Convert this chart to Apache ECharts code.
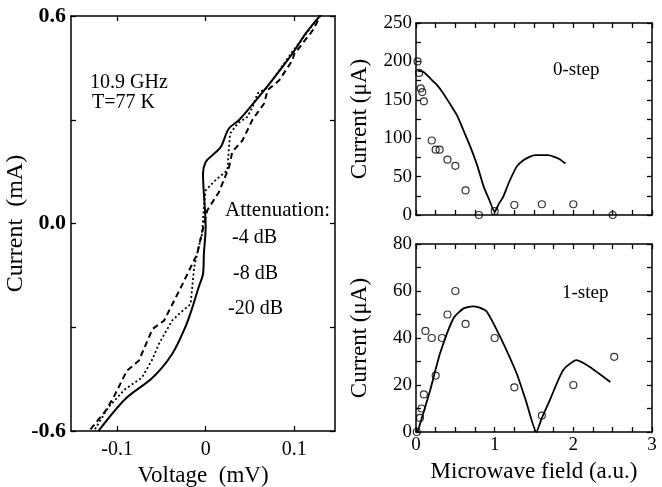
<!DOCTYPE html>
<html>
<head>
<meta charset="utf-8">
<script src="https://cdn.jsdelivr.net/npm/echarts@6/dist/echarts.min.js"></script>
<style>html,body{margin:0;padding:0;background:#fff;}#c{width:662px;height:487px;}</style>
</head>
<body>
<div id="c"></div>
<script>
// ---- Left panel: I-V curves ----
const ivXTicks = [-0.1, 0, 0.1];
const iv20dB_V = [-0.121,-0.091,-0.060,-0.038,-0.023,-0.015,-0.008,-0.003,-0.002,0.000,-0.003,0.000,0.0075,0.017,0.026,0.038,0.057,0.075,0.098,0.113,0.130];
const iv20dB_I = [-0.60,-0.508,-0.446,-0.378,-0.30,-0.243,-0.185,-0.146,-0.088,-0.01,0.144,0.178,0.197,0.221,0.274,0.30,0.357,0.414,0.492,0.55,0.603];
const iv8dB_V = [-0.125,-0.110,-0.091,-0.072,-0.060,-0.053,-0.038,-0.028,-0.017,-0.013,-0.008,-0.004,-0.002,0.000,0.011,0.0245,0.0275,0.036,0.047,0.053,0.0585,0.068,0.074,0.098,0.128];
const iv8dB_I = [-0.595,-0.532,-0.479,-0.446,-0.392,-0.349,-0.281,-0.257,-0.233,-0.127,-0.069,-0.03,0.047,0.096,0.125,0.154,0.26,0.289,0.308,0.337,0.376,0.39,0.41,0.497,0.598];
const iv4dB_V = [-0.130,-0.113,-0.104,-0.089,-0.0755,-0.060,-0.047,-0.028,-0.017,-0.0095,-0.0057,0.0018,0.015,0.0264,0.030,0.0415,0.0528,0.066,0.070,0.083,0.098,0.100,0.121,0.130];
const iv4dB_I = [-0.595,-0.542,-0.503,-0.426,-0.397,-0.305,-0.281,-0.185,-0.127,-0.088,-0.044,0.038,0.091,0.163,0.207,0.24,0.30,0.347,0.386,0.414,0.472,0.49,0.559,0.603];

// ---- Top right: 0-step ----
const step0_measX = [0.02,0.04,0.06,0.08,0.10,0.20,0.25,0.30,0.40,0.50,0.63,0.80,1.00,1.25,1.60,2.00,2.50];
const step0_measY = [200,185,165,160,148,97,85,85,72,64,32,0,5,13,14,14,0];
const step0_theoX = [0.02,0.10,0.18,0.26,0.35,0.43,0.52,0.60,0.69,0.78,0.86,0.93,1.00,1.05,1.11,1.18,1.28,1.36,1.45,1.52,1.60,1.68,1.75,1.82,1.90];
const step0_theoY = [188,186,178,170,158,145,130,111,89,64,37,20,4,14,24,42,63,71,76,78,78,78,76,73,67];

// ---- Bottom right: 1-step ----
const step1_measX = [0.01,0.05,0.07,0.10,0.12,0.20,0.25,0.33,0.40,0.50,0.63,1.00,1.25,1.60,2.00,2.52];
const step1_measY = [0,6,10,16,43,40,24,40,50,60,46,40,19,7,20,32];
const step1_theoX = [0.02,0.18,0.305,0.475,0.60,0.72,0.80,0.90,1.07,1.28,1.40,1.53,1.60,1.70,1.87,2.04,2.21,2.47];
const step1_theoY = [0,17.8,33.4,48.3,52.5,53.5,53,51.2,40.5,24.9,13,0,6,13.5,26.3,30.6,27.7,21.3];

const zip = (a, b) => a.map((v, i) => [v, b[i]]);
const FONT = 'Liberation Serif';
const black = '#000';

function xAx(grid, pos, opts) {
  return Object.assign({
    type: 'value', gridIndex: grid, position: pos,
    axisLine: {show: true, onZero: false, lineStyle: {color: black, width: 1.5}},
    axisTick: {show: true, inside: true, length: 5, lineStyle: {color: black, width: 1.3}},
    axisLabel: {show: false},
    splitLine: {show: false}
  }, opts);
}
function yAx(grid, pos, opts) {
  return Object.assign({
    type: 'value', gridIndex: grid, position: pos,
    axisLine: {show: true, onZero: false, lineStyle: {color: black, width: 1.5}},
    axisTick: {show: true, inside: true, length: 5, lineStyle: {color: black, width: 1.3}},
    axisLabel: {show: false},
    splitLine: {show: false}
  }, opts);
}
const labelStyle = {color: black, fontFamily: FONT, fontSize: 19};
const nameStyle = {color: black, fontFamily: FONT, fontSize: 23};

const option = {
  animation: false,
  backgroundColor: '#fff',
  textStyle: {fontFamily: FONT},
  grid: [
    {left: 71, top: 16, width: 264, height: 415, containLabel: false, outerBoundsMode: 'none'},
    {left: 416, top: 23, width: 236, height: 192, containLabel: false, outerBoundsMode: 'none'},
    {left: 416, top: 244, width: 236, height: 188, containLabel: false, outerBoundsMode: 'none'}
  ],
  xAxis: [
    xAx(0, 'bottom', {min: -0.152, max: 0.146,
      axisTick: {show: true, inside: true, length: 5, customValues: ivXTicks, lineStyle: {color: black, width: 1.3}},
      axisLabel: {show: true, customValues: ivXTicks, margin: 9, formatter: v => (v === 0 ? '0' : String(v)), ...labelStyle, fontSize: 20},
      name: 'Voltage  (mV)', nameLocation: 'middle', nameGap: 21, nameTextStyle: nameStyle}),
    xAx(0, 'top', {min: -0.152, max: 0.146,
      axisTick: {show: true, inside: true, length: 5, customValues: ivXTicks, lineStyle: {color: black, width: 1.3}}}),
    xAx(1, 'bottom', {min: 0, max: 3, interval: 0.25}),
    xAx(1, 'top', {min: 0, max: 3, interval: 0.25}),
    xAx(2, 'bottom', {min: 0, max: 3, interval: 0.25,
      axisLabel: {show: true, margin: 4, formatter: v => (Number.isInteger(v) ? String(v) : ''), ...labelStyle},
      name: 'Microwave field (a.u.)', nameLocation: 'middle', nameGap: 28, nameTextStyle: nameStyle}),
    xAx(2, 'top', {min: 0, max: 3, interval: 0.25})
  ],
  yAxis: [
    yAx(0, 'left', {min: -0.6, max: 0.6, interval: 0.3,
      axisLabel: {show: true, margin: 5, formatter: v => (Math.abs(Math.abs(v) - 0.3) < 1e-6 ? '' : v.toFixed(1)), ...labelStyle, fontSize: 22, fontWeight: 'bold'},
      name: 'Current  (mA)', nameLocation: 'middle', nameGap: 31, nameTextStyle: {...nameStyle, fontSize: 24}}),
    yAx(0, 'right', {min: -0.6, max: 0.6, interval: 0.3}),
    yAx(1, 'left', {min: 0, max: 250, interval: 25,
      axisLabel: {show: true, margin: 4, formatter: v => (v % 50 === 0 ? String(v) : ''), ...labelStyle},
      name: 'Current (μA)', nameLocation: 'middle', nameGap: 45, nameTextStyle: nameStyle}),
    yAx(1, 'right', {min: 0, max: 250, interval: 25}),
    yAx(2, 'left', {min: 0, max: 80, interval: 10,
      axisLabel: {show: true, margin: 4, formatter: v => (v % 20 === 0 ? String(v) : ''), ...labelStyle},
      name: 'Current (μA)', nameLocation: 'middle', nameGap: 45, nameTextStyle: nameStyle}),
    yAx(2, 'right', {min: 0, max: 80, interval: 10})
  ],
  series: [
    {name: '-20 dB', type: 'line', xAxisIndex: 0, yAxisIndex: 0, data: zip(iv20dB_V, iv20dB_I), showSymbol: false, smooth: 0.3,
      lineStyle: {color: black, width: 2, type: 'solid'}},
    {name: '-8 dB', type: 'line', xAxisIndex: 0, yAxisIndex: 0, data: zip(iv8dB_V, iv8dB_I), showSymbol: false,
      lineStyle: {color: black, width: 1.8, type: [2, 2.5]}},
    {name: '-4 dB', type: 'line', xAxisIndex: 0, yAxisIndex: 0, data: zip(iv4dB_V, iv4dB_I), showSymbol: false,
      lineStyle: {color: black, width: 2, type: [6, 4]}},
    {name: '0-step theory', type: 'line', xAxisIndex: 2, yAxisIndex: 2, data: zip(step0_theoX, step0_theoY), showSymbol: false, smooth: 0.2,
      lineStyle: {color: black, width: 1.8}},
    {name: '0-step data', type: 'scatter', xAxisIndex: 2, yAxisIndex: 2, data: zip(step0_measX, step0_measY), symbol: 'circle', symbolSize: 7,
      itemStyle: {color: 'rgba(255,255,255,0)', borderColor: black, borderWidth: 1.2}},
    {name: '1-step theory', type: 'line', xAxisIndex: 4, yAxisIndex: 4, data: zip(step1_theoX, step1_theoY), showSymbol: false, smooth: 0.2,
      lineStyle: {color: black, width: 1.8}},
    {name: '1-step data', type: 'scatter', xAxisIndex: 4, yAxisIndex: 4, data: zip(step1_measX, step1_measY), symbol: 'circle', symbolSize: 7,
      itemStyle: {color: 'rgba(255,255,255,0)', borderColor: black, borderWidth: 1.2}}
  ],
  graphic: [
    {type: 'text', left: 90, top: 73, style: {text: '10.9 GHz', font: '20px "Liberation Serif"', fill: black}},
    {type: 'text', left: 92, top: 93, style: {text: 'T=77 K', font: '20px "Liberation Serif"', fill: black}},
    {type: 'text', left: 225, top: 200, style: {text: 'Attenuation:', font: '21px "Liberation Serif"', fill: black}},
    {type: 'text', left: 232, top: 228, style: {text: '-4 dB', font: '20px "Liberation Serif"', fill: black}},
    {type: 'text', left: 233, top: 264, style: {text: '-8 dB', font: '20px "Liberation Serif"', fill: black}},
    {type: 'text', left: 228, top: 299, style: {text: '-20 dB', font: '20px "Liberation Serif"', fill: black}},
    {type: 'text', left: 553, top: 61, style: {text: '0-step', font: '19px "Liberation Serif"', fill: black}},
    {type: 'text', left: 562, top: 284, style: {text: '1-step', font: '19px "Liberation Serif"', fill: black}}
  ]
};
echarts.init(document.getElementById('c'), null, {renderer: 'canvas'}).setOption(option);
</script>
</body>
</html>
